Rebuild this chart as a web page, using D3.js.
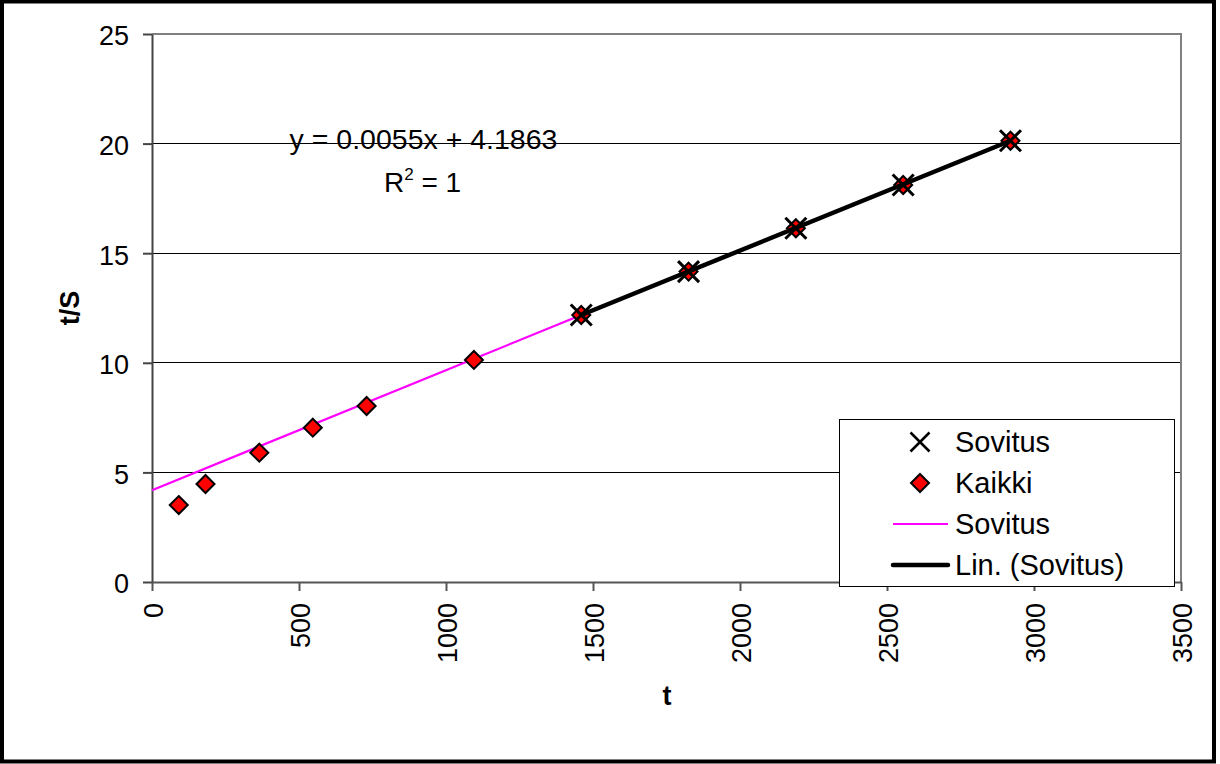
<!DOCTYPE html>
<html><head><meta charset="utf-8">
<script src="https://cdn.jsdelivr.net/npm/d3@7"></script>
<style>
body{margin:0;background:#fff}
svg{display:block;font-family:"Liberation Sans",Arial,sans-serif}
</style></head>
<body><svg id="c" width="1220" height="764"></svg>
<script>
// ---- data ----
const tAll  = [91, 182, 365, 547, 730, 1095, 1460, 1825, 2190, 2555, 2920];
const tsAll = [3.51, 4.47, 5.90, 7.04, 8.03, 10.13, 12.18, 14.16, 16.14, 18.11, 20.13];
const tFit  = [1460, 1825, 2190, 2555, 2920];
const tsFit = [12.18, 14.16, 16.14, 18.11, 20.13];
const pinkT  = [0, 1460];
const pinkTS = [4.19, 12.18];
const trendT  = [1460, 2920];
const trendTS = [12.18, 20.13];
const xTicks = [0, 500, 1000, 1500, 2000, 2500, 3000, 3500];
const yTicks = [0, 5, 10, 15, 20, 25];
const legendLabels = ["Sovitus", "Kaikki", "Sovitus", "Lin. (Sovitus)"];
const eqLine1 = "y = 0.0055x + 4.1863";
const eqLine2a = "R", eqLine2sup = "2", eqLine2b = " = 1";
const xTitle = "t", yTitle = "t/S";

// ---- layout ----
const svg = d3.select("#c");
const L = 152, R = 1181, T = 34, B = 582;
const x = d3.scaleLinear().domain([0, 3500]).range([L, R]);
const y = d3.scaleLinear().domain([0, 25]).range([B, T]);

svg.append("rect").attr("width",1220).attr("height",764).attr("fill","#fff");
// outer frame
svg.append("rect").attr("x",2).attr("y",1.5).attr("width",1212).attr("height",760)
  .attr("fill","none").attr("stroke","#000").attr("stroke-width",4);

// gridlines
svg.append("g").selectAll("line").data(yTicks.filter(v => v > 0 && v < 25)).join("line")
  .attr("x1", L).attr("x2", R).attr("y1", d => y(d)).attr("y2", d => y(d))
  .attr("stroke", "#000").attr("stroke-width", 1).attr("shape-rendering","crispEdges");
// top & right border
svg.append("path").attr("d", `M${L},${y(25)}H${R}V${B}`)
  .attr("fill","none").attr("stroke","#808080").attr("stroke-width",2);

// axes
const gy = svg.append("g").attr("transform", `translate(${L},0)`)
  .call(d3.axisLeft(y).tickValues(yTicks).tickFormat(d3.format("d")).tickSize(9).tickPadding(14).tickSizeOuter(0));
gy.select(".domain").attr("stroke","#444").attr("stroke-width",2);
gy.selectAll(".tick line").attr("stroke","#444").attr("stroke-width",2);
gy.selectAll("text").attr("font-size",27).attr("fill","#000").attr("dy","0.4em")
  .attr("font-family","'Liberation Sans',Arial,sans-serif");

const gx = svg.append("g").attr("transform", `translate(0,${B})`)
  .call(d3.axisBottom(x).tickValues(xTicks).tickFormat(d3.format("d")).tickSize(9).tickSizeOuter(0));
gx.select(".domain").attr("stroke","#555").attr("stroke-width",2);
gx.selectAll(".tick line").attr("stroke","#555").attr("stroke-width",2);
gx.selectAll("text").attr("font-size",27).attr("fill","#000")
  .attr("font-family","'Liberation Sans',Arial,sans-serif")
  .attr("transform","rotate(-90)").attr("text-anchor","end")
  .attr("x",-21).attr("y",10).attr("dy",0);

// axis titles
svg.append("text").attr("transform","translate(79,308) rotate(-90)")
  .attr("text-anchor","middle").attr("font-size",27).attr("font-weight","bold").text(yTitle);
svg.append("text").attr("x",667).attr("y",705)
  .attr("text-anchor","middle").attr("font-size",27).attr("font-weight","bold").text(xTitle);

// pink line
const line = d3.line().x(d => x(d[0])).y(d => y(d[1]));
svg.append("path").datum(pinkT.map((t,i)=>[t,pinkTS[i]])).attr("d", line)
  .attr("fill","none").attr("stroke","#ff00ff").attr("stroke-width",2.2);

// diamonds
const diamond = s => `M0,${-s}L${s},0L0,${s}L${-s},0Z`;
svg.append("g").selectAll("path").data(tAll.map((t,i)=>[t,tsAll[i]])).join("path")
  .attr("transform", d => `translate(${x(d[0])},${y(d[1])})`)
  .attr("d", diamond(9)).attr("fill","#ff0000").attr("stroke","#000").attr("stroke-width",2);

// X markers
const cross = s => `M${-s},${-s}L${s},${s}M${-s},${s}L${s},${-s}`;
svg.append("g").selectAll("path").data(tFit.map((t,i)=>[t,tsFit[i]])).join("path")
  .attr("transform", d => `translate(${x(d[0])},${y(d[1])})`)
  .attr("d", cross(10.5)).attr("fill","none").attr("stroke","#000").attr("stroke-width",3);

// trendline
svg.append("path").datum(trendT.map((t,i)=>[t,trendTS[i]])).attr("d", line)
  .attr("fill","none").attr("stroke","#000").attr("stroke-width",4.5);

// equation
svg.append("text").attr("x",423.5).attr("y",149).attr("text-anchor","middle")
  .attr("font-size",28.5).attr("fill","#000").text(eqLine1);
const r2 = svg.append("text").attr("x",422.5).attr("y",192).attr("text-anchor","middle")
  .attr("font-size",28).attr("fill","#000");
r2.append("tspan").text(eqLine2a);
r2.append("tspan").attr("font-size",17).attr("dy",-12).text(eqLine2sup);
r2.append("tspan").attr("dy",12).text(eqLine2b);

// legend
const lg = svg.append("g");
lg.append("rect").attr("x",839.5).attr("y",419.5).attr("width",335).attr("height",167)
  .attr("fill","#fff").attr("stroke","#000").attr("stroke-width",1);
const rowY = [442, 483, 524, 565];
const mx = 920;
lg.append("path").attr("transform",`translate(${mx},${rowY[0]})`).attr("d",cross(9.5))
  .attr("fill","none").attr("stroke","#000").attr("stroke-width",2.5);
lg.append("path").attr("transform",`translate(${mx},${rowY[1]})`).attr("d",diamond(9))
  .attr("fill","#ff0000").attr("stroke","#000").attr("stroke-width",2);
lg.append("line").attr("x1",893).attr("x2",948).attr("y1",rowY[2]).attr("y2",rowY[2])
  .attr("stroke","#ff00ff").attr("stroke-width",2.2);
lg.append("line").attr("x1",893).attr("x2",948).attr("y1",rowY[3]).attr("y2",rowY[3])
  .attr("stroke","#000").attr("stroke-width",4.5).attr("stroke-linecap","round");
lg.selectAll("text.lbl").data(legendLabels).join("text").attr("class","lbl")
  .attr("x",955).attr("y",(d,i)=>rowY[i]+10).attr("font-size",29).attr("fill","#000").text(d=>d);
</script></body></html>
